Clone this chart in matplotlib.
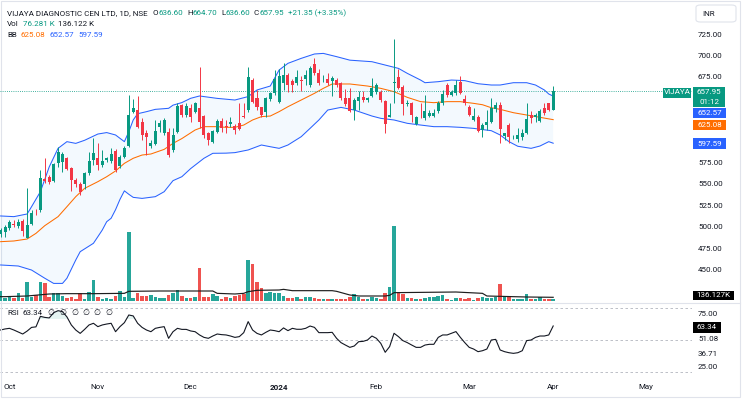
import numpy as np
import matplotlib
matplotlib.use('Agg')
import matplotlib.pyplot as plt
from matplotlib.patches import Rectangle, FancyBboxPatch
from matplotlib.lines import Line2D

plt.rcParams['font.family'] = ['Roboto', 'DejaVu Sans']

# ---------------- data (bar 0 = 28 Sep 2023 ... bar 125 = 1 Apr 2024) ----------------
opens = [492, 494.4, 498.3, 503, 501.4, 506.8, 487.4, 503.3, 517.8, 519.6,
         555.4, 558.5, 553.9, 574.1, 575.3, 580, 568.3, 554.7, 550, 549.6,
         563.2, 578, 580, 572.2, 578, 577.2, 588.9, 571, 581.9, 594.3,
         633.6, 636.3, 622.7, 609.9, 594.3, 596.6, 616.1, 609.9, 611, 589.7,
         611, 642.2, 630.5, 638.3, 634.4, 638.3, 629.3, 609.1, 599.4, 611,
         623.9, 617.6, 620, 617.6, 620.8, 629.3, 636.3, 671.3, 650, 639.4,
         634.4, 648.8, 655.8, 646, 668.2, 677.2, 670.6, 668.2, 671.3, 672.1,
         665.5, 690, 679.9, 672, 672.1, 670.6, 671.3, 668.2, 650, 650,
         636.3, 647.2, 651.1, 648, 652.6, 657.7, 657.7, 647.2, 628.6, 667.4,
         674.4, 662.8, 643.7, 644.9, 620, 628.3, 626.6, 629.3, 629.3, 635.5,
         644.9, 665.5, 653.8, 655.8, 669.4, 648.8, 639.4, 624.7, 628.6, 613,
         618.8, 622.7, 637.1, 642.2, 606, 618.8, 604.5, 602.1, 604.4, 609.1,
         630.5, 627.8, 623.9, 638.3, 644.1, 636.6]
highs = [499, 502.2, 508, 508, 508.8, 508.8, 545, 519.7, 521, 566.3,
         579.9, 560.5, 574.9, 593.5, 587.7, 581.9, 570.2, 556.6, 552.7, 564.4,
         587.7, 603.3, 597.4, 589.7, 582, 591.6, 590.4, 583.8, 594.3, 653.8,
         648.8, 652.6, 626.6, 613, 601.3, 624.7, 624.7, 626.6, 614.9, 614.9,
         644.1, 643.3, 644, 643.3, 646.1, 686.1, 630.5, 611, 613, 625.4,
         626.6, 624.7, 628.6, 620, 644.1, 644.1, 686.1, 673.3, 659.7, 640.2,
         651.9, 657.7, 683, 684, 690.8, 679.1, 672.1, 683, 676, 683,
         687.7, 696.6, 683.8, 677.2, 679.9, 676, 673.3, 669.4, 660.5, 661.6,
         650, 658.9, 658.9, 651.9, 673.3, 667.4, 659.7, 648, 644.1, 718.8,
         683.8, 665.5, 648, 646.1, 629.3, 644.1, 653.8, 636.3, 637.1, 647.2,
         659.7, 667.4, 659.7, 671.3, 676, 653.8, 642.2, 638.3, 630.5, 620.8,
         636.3, 650, 646.1, 646.1, 610, 620.8, 607, 614.9, 613.8, 644.1,
         635.5, 632.4, 637.1, 644.9, 644.9, 664.7]
lows = [488, 488.5, 496.3, 500, 498.3, 489.3, 487, 502.2, 513.8, 517.7,
        550.8, 550, 552.7, 570.2, 564.4, 566.3, 542.2, 546.9, 537.2, 543.8,
        560.5, 572.2, 566.3, 570.2, 576, 574.1, 564.4, 568.3, 580, 592.8,
        632.4, 615, 601.3, 583.8, 591.6, 595.5, 611, 607.2, 581.1, 587.7,
        609.9, 628.6, 628.6, 622.7, 632.4, 615, 603.3, 595.5, 597.4, 609.9,
        611, 609.1, 616.9, 608.3, 613, 626.6, 634.4, 644.9, 636.3, 627.8,
        628.6, 647.2, 654, 645, 659.7, 657.7, 657.7, 665.5, 658.9, 665.5,
        663.6, 677.2, 665.5, 669.4, 665.5, 652.6, 663.6, 648, 641, 634.4,
        624.7, 636.3, 646.1, 646.1, 651.9, 655, 646.1, 609.1, 627.8, 644.9,
        660.5, 630.5, 641, 622.7, 618.8, 626.6, 624.7, 627.8, 627.8, 633.2,
        642.2, 651.9, 652.6, 653.8, 655, 642.2, 629.3, 623.9, 611, 605.2,
        613, 620.8, 634.4, 597.4, 601.3, 597.4, 602, 599.4, 601.3, 608.3,
        620.8, 622.7, 622.7, 630.5, 635.5, 636.6]
closes = [496, 499.4, 505.3, 502, 506, 495.5, 502, 516.5, 517, 556.6,
          553.9, 552.7, 573.3, 587.7, 585, 567.1, 554.7, 550, 541, 563.2,
          577.2, 585.9, 572.2, 577.2, 580, 585, 566.3, 581.9, 591.6, 630.5,
          638.3, 616.9, 607.2, 604.5, 597.4, 612.2, 621.5, 624.7, 583.8, 607.2,
          641, 630.5, 641, 628.6, 644.9, 622.7, 607.2, 601.3, 612.2, 623.9,
          614.9, 616.9, 622.3, 613, 613.8, 627.8, 675.2, 646.1, 639.4, 630.5,
          650, 655.8, 672, 676, 677.2, 665.5, 665.5, 675.2, 670, 677.2,
          685, 679.1, 667.4, 672.5, 668.2, 673.3, 665.5, 650, 643.3, 635.5,
          648, 651.9, 648, 650, 661.6, 665.5, 648, 619.6, 630.5, 669.4,
          661.6, 643.3, 644.5, 630.5, 627.8, 627.8, 635.5, 633.2, 633.2, 644.9,
          655, 653.8, 657.7, 665.5, 656.6, 644.1, 630.5, 629.3, 612.2, 618.8,
          622.7, 638.3, 642.2, 613.8, 609.1, 604.5, 605, 607.2, 609.9, 625.4,
          626.6, 630.5, 635.5, 632.4, 636.6, 657.95]
volumes_k = [380, 98, 160, 98, 282, 98, 699, 160, 209, 699,
             663, 160, 282, 282, 184, 98, 160, 74, 282, 74,
             331, 761, 160, 74, 98, 74, 184, 380, 160, 2540,
             110, 307, 184, 184, 209, 160, 110, 110, 209, 307,
             405, 184, 110, 110, 160, 1202, 160, 160, 258, 184,
             74, 160, 110, 184, 209, 258, 1509, 1362, 712, 466,
             282, 344, 307, 282, 184, 123, 123, 147, 74, 147,
             147, 110, 74, 74, 74, 74, 74, 74, 74, 135,
             258, 135, 74, 74, 147, 98, 74, 307, 528, 2761,
             344, 258, 110, 110, 74, 74, 110, 147, 147, 184,
             209, 74, 49, 98, 110, 74, 110, 37, 110, 135,
             110, 110, 135, 626, 135, 160, 74, 74, 74, 258,
             74, 74, 147, 74, 74, 76.281]
vol_ma_bar = [0, 1, 6, 11, 15, 21, 28, 29, 36, 48, 49, 53, 55, 56, 58, 63,
              64, 66, 75, 76, 79, 81, 87, 88, 89, 96, 103, 109, 110, 113, 119, 125]
vol_ma_k = [160, 160, 184, 258, 270, 270, 282, 356, 368, 368, 282, 258, 282, 344, 393, 405,
            429, 380, 380, 356, 221, 184, 184, 209, 307, 319, 331, 282, 184, 172, 147, 136.122]

bb_up_bar = [0, 3, 6, 7, 9, 11, 13, 15, 17, 19, 22, 24, 26, 28, 29, 30, 31, 33, 35, 38, 39,
             41, 43, 45, 49, 53, 56, 58, 61, 63, 65, 68, 71, 73, 76, 79, 84, 87, 90, 92,
             95, 96, 99, 102, 105, 108, 111, 113, 116, 119, 121, 123, 124, 125]
bb_up = [512.7, 511.9, 515, 523.5, 541, 570, 591.6, 599.4, 597.4, 601, 608.3, 610, 607.2,
         599.4, 611, 624.7, 632, 634.4, 637.1, 638.3, 642, 645, 650, 652.7, 649.9, 648, 652,
         659.7, 664.3, 683, 690.8, 696.6, 701.7, 702.4, 698.6, 694.5, 692.7, 688.8, 684.9,
         679.1, 671.3, 668.2, 669.4, 671.3, 670.6, 667, 665.5, 665.5, 668.2, 668.2, 665.5,
         659.7, 655, 652.57]
bb_mid_bar = [0, 3, 6, 8, 10, 13, 15, 17, 19, 22, 24, 26, 28, 30, 32, 34, 37, 39, 41, 44,
              46, 49, 51, 53, 55, 57, 59, 61, 63, 65, 68, 71, 73, 75, 79, 83, 86, 89, 92,
              95, 98, 101, 104, 107, 109, 111, 113, 116, 119, 122, 125]
bb_mid = [482.7, 483.5, 485.8, 492.4, 501.4, 511.9, 523.5, 535.2, 544.9, 552.7, 558.5,
          565.2, 574.1, 580, 583.8, 585, 590.4, 597.4, 603, 613, 616.9, 616.9, 616.1, 616.1,
          618.8, 624.7, 628.6, 629.3, 634.4, 640.2, 648, 655.8, 661.6, 666.7, 666.7, 664.3,
          661.6, 657.7, 651.1, 646.1, 644.9, 646.1, 646.1, 644.1, 642.5, 639, 637.1, 633.2,
          630.5, 627.8, 625.08]
bb_lo_bar = [0, 4, 7, 10, 12, 14, 15, 17, 18, 21, 22, 23, 24, 25, 26, 27, 28, 29, 30, 32,
             35, 37, 39, 41, 43, 46, 48, 51, 53, 56, 59, 61, 63, 65, 68, 70, 72, 74, 77, 80,
             84, 86, 89, 92, 95, 98, 101, 104, 107, 109, 111, 113, 115, 117, 120, 122, 124, 125]
bb_lo = [455.5, 454.3, 449.6, 440, 434, 434, 440, 461.3, 471, 480.8, 488.5, 496.3, 506,
         510, 520, 532, 542, 538, 534.4, 533.2, 535.2, 541, 553.9, 558.5, 568, 580, 585.8,
         586, 586.6, 589.7, 595.5, 593.5, 591.6, 595.5, 605.2, 614.9, 624.7, 636.3, 639.4,
         636.3, 629.3, 626.6, 624.7, 620.8, 618.8, 616.9, 616.9, 616.1, 614.9, 613.5, 612.2,
         607.2, 599.4, 594, 591.6, 594.3, 599.4, 597.59]

rsi = [59.5, 60.5, 61.1, 59.5, 57.6, 55.7, 58.5, 62, 62.5, 72.5,
       71.5, 71, 76, 77.9, 77, 72, 64.3, 59.5, 56.3, 60.1,
       64.3, 65.9, 62.7, 64.3, 65.2, 65.9, 57.9, 62.7, 66.5, 73.8,
       72.9, 65.9, 62, 59.5, 57.9, 61.1, 62, 62.7, 51.6, 57.9,
       61.1, 60.1, 60.1, 58.6, 57.9, 54.8, 52.5, 51.6, 53.8, 55.7,
       55.1, 54.8, 53.8, 52.5, 53.2, 57, 67.5, 59.5, 56.3, 54.8,
       57.3, 59.5, 58.9, 57.9, 61.5, 58.9, 61.1, 60.2, 60.2, 61.1,
       63.3, 62, 57, 57, 57, 57.3, 51.6, 47.5, 45.2, 43,
       44.3, 48.4, 48.7, 50, 53.8, 51.6, 46.8, 38.3, 43.7, 56.4,
       53.2, 49.4, 47.5, 45.2, 43, 43, 45.2, 45.9, 45.9, 52.5,
       54.8, 54.8, 56.4, 58, 52.5, 47.5, 43, 41.4, 38.9, 39.8,
       41.4, 50, 50.6, 40.5, 38.9, 37.9, 37.3, 37.9, 39.8, 49.4,
       50, 52.5, 53.8, 53.8, 54.8, 63.34]

month_bars = [2, 22, 43, 63, 85, 106, 125, 146]
month_labels = ['Oct', 'Nov', 'Dec', '2024', 'Feb', 'Mar', 'Apr', 'May']
# price labels hidden behind the value tags (425, 600, 625, 650) are left out
price_ticks = [450, 475, 500, 525, 550, 575, 675, 700, 725]
rsi_ticks = [75.00, 51.08, 36.71, 25.00]
last_close, bb_upper_last, bb_mid_last, bb_lower_last = 657.95, 652.57, 625.08, 597.59
rsi_last = 63.34

# ---------------- figure ----------------
W, H = 743, 399
fig = plt.figure(figsize=(W / 100, H / 100), dpi=100)
fig.patch.set_facecolor('white')


def fx(px):
    return px / W


def fy(py):
    return 1 - py / H


UP, DOWN = '#089981', '#f23645'
TXT = '#131722'
FS = 5.8

ax = fig.add_axes([0, fy(302), fx(692), 302 / H])
axv = ax.twinx()
axr = fig.add_axes([0, fy(377), fx(692), 74 / H], sharex=ax)
ax.set_zorder(3)
axv.set_zorder(2)
ax.patch.set_visible(False)

n = len(closes)
bars = np.arange(n)
o = np.array(opens); c = np.array(closes); h = np.array(highs); l = np.array(lows)
up = c >= o
col = np.where(up, UP, DOWN)

# candles
ax.vlines(bars, l, h, colors=col, lw=0.7, zorder=3)
body = np.maximum(np.abs(c - o), 0.6)
ax.bar(bars, body, bottom=np.minimum(o, c), width=0.68, color=col, linewidth=0, zorder=4)

# Bollinger bands
ub_x = np.array(bb_up_bar); lb_x = np.array(bb_lo_bar)
ax.fill(np.concatenate([ub_x, lb_x[::-1]]), np.concatenate([bb_up, bb_lo[::-1]]),
        color='#2196f3', alpha=0.05, lw=0, zorder=1)
ax.plot(bb_up_bar, bb_up, color='#2962ff', lw=0.75, zorder=2)
ax.plot(bb_lo_bar, bb_lo, color='#2962ff', lw=0.75, zorder=2)
ax.plot(bb_mid_bar, bb_mid, color='#ff6d00', lw=0.75, zorder=2)

# last price dotted line
ax.axhline(last_close, color=UP, lw=0.6, ls=(0, (1, 1.6)), zorder=2)

ax.set_xlim(-0.136, 156.4)
ax.set_ylim(412.3, 764.7)
ax.yaxis.tick_right()
ax.set_yticks(price_ticks)
ax.set_yticklabels([f'{v:.2f}' for v in price_ticks])
ax.tick_params(axis='y', length=0, pad=4.3, labelsize=FS, labelcolor=TXT)
ax.tick_params(axis='x', bottom=False, labelbottom=False)
for s in ax.spines.values():
    s.set_visible(False)

# volume
vcol = np.where(up, '#26a69a', '#ef5350')
axv.bar(bars, volumes_k, width=0.8, color=vcol, linewidth=0)
axv.plot(vol_ma_bar, vol_ma_k, color='#1e1e1e', lw=0.85)
axv.set_ylim(-36.8, 11077)
axv.yaxis.set_visible(False)
for s in axv.spines.values():
    s.set_visible(False)

# RSI
axr.plot(bars, rsi, color=TXT, lw=0.8, zorder=3)
rsi_a = np.array(rsi)
axr.fill_between(bars, 70, rsi_a, where=rsi_a > 70, color=UP, alpha=0.10, lw=0, interpolate=True)
for lvl in (80, 50, 20):
    axr.axhline(lvl, color='#b2b5be', lw=0.6, ls=(0, (3, 3)))
axr.set_ylim(14.8, 85.2)
axr.yaxis.tick_right()
axr.set_yticks(rsi_ticks)
axr.set_yticklabels([f'{v:.2f}' for v in rsi_ticks])
axr.tick_params(axis='y', length=0, pad=4.3, labelsize=FS, labelcolor=TXT)
axr.set_xticks(month_bars)
axr.set_xticklabels(month_labels)
axr.tick_params(axis='x', length=0, pad=5.0, labelsize=FS, labelcolor=TXT)
for lab in axr.get_xticklabels():
    if lab.get_text() == '2024':
        lab.set_fontweight('bold')
for s in axr.spines.values():
    s.set_visible(False)
axr.patch.set_visible(False)

# separators / frame
fig.add_artist(Line2D([fx(0), fx(740)], [fy(302.5)] * 2, transform=fig.transFigure,
                      color='#e0e3eb', lw=0.8))
fig.add_artist(Rectangle((fx(0.5), fy(397)), fx(739), 396.5 / H, transform=fig.transFigure,
                         fill=False, ec='#e0e3eb', lw=0.8))


def tag(x0, y0, x1, y1, color, lines, tcol='white', size=FS):
    fig.add_artist(Rectangle((fx(x0), fy(y1)), fx(x1) - fx(x0), (y1 - y0) / H,
                             transform=fig.transFigure, fc=color, ec='none', zorder=5))
    k = len(lines)
    for i, s in enumerate(lines):
        yc = y0 + (y1 - y0) * (i + 0.5) / k
        fig.text(fx((x0 + x1) / 2), fy(yc), s, color=tcol, ha='center', va='center',
                 fontsize=size, zorder=6)


tag(663, 87.5, 691, 97.5, UP, ['VIJAYA'])
tag(693, 87.5, 725, 107, UP, [f'{last_close:.2f}', '01:12'])
tag(693, 107.5, 726, 118, '#2962ff', [f'{bb_upper_last:.2f}'])
tag(693, 119.5, 726, 130, '#ff6d00', [f'{bb_mid_last:.2f}'])
tag(693, 138.5, 726, 149, '#2962ff', [f'{bb_lower_last:.2f}'])
tag(693, 290.5, 734, 300, '#000000', [f'{vol_ma_k[-1] + 0.005:.3f}K'])
tag(693, 322, 721, 332.5, '#000000', [f'{rsi_last:.2f}'])

# INR box
fig.add_artist(FancyBboxPatch((fx(696), fy(22)), fx(40), 17 / H, transform=fig.transFigure,
                              boxstyle='round,pad=0,rounding_size=0.006', fc='white',
                              ec='#e0e3eb', lw=0.8, zorder=5))
fig.text(fx(702), fy(13.5), 'INR', color=TXT, fontsize=FS, va='center', ha='left', zorder=6)

renderer = fig.canvas.get_renderer()


def seq(x_px, y_px, pieces, size=FS):
    x = x_px
    for s, colr, gap in pieces:
        t = fig.text(fx(x), fy(y_px), s, color=colr, fontsize=size, va='center', ha='left')
        x += t.get_window_extent(renderer=renderer).width + gap


chg = last_close - opens[-1]
seq(7, 13.3, [('VIJAYA DIAGNOSTIC CEN LTD, 1D, NSE', TXT, 5),
              ('O', TXT, 0), (f'{opens[-1]:.2f}', UP, 4),
              ('H', TXT, 0), (f'{highs[-1]:.2f}', UP, 4),
              ('L', TXT, 0), (f'{lows[-1]:.2f}', UP, 4),
              ('C', TXT, 0), (f'{last_close:.2f}', UP, 4),
              (f'+{chg:.2f} (+{chg / opens[-1] * 100:.2f}%)', UP, 0)])
seq(7, 24, [('Vol', TXT, 4), (f'{volumes_k[-1]:.3f} K', UP, 4),
            (f'{vol_ma_k[-1]:.3f} K', TXT, 0)])
seq(7, 34.7, [('BB', TXT, 4), (f'{bb_mid_last:.2f}', '#ff6d00', 4),
              (f'{bb_upper_last:.2f}', '#2962ff', 4), (f'{bb_lower_last:.2f}', '#2962ff', 0)])
seq(7, 313.3, [('RSI', TXT, 4), (f'{rsi_last:.2f}', TXT, 5)] +
    [('\u2205', TXT, 4.5)] * 6)

fig.savefig('out.png', dpi=100, facecolor='white')
